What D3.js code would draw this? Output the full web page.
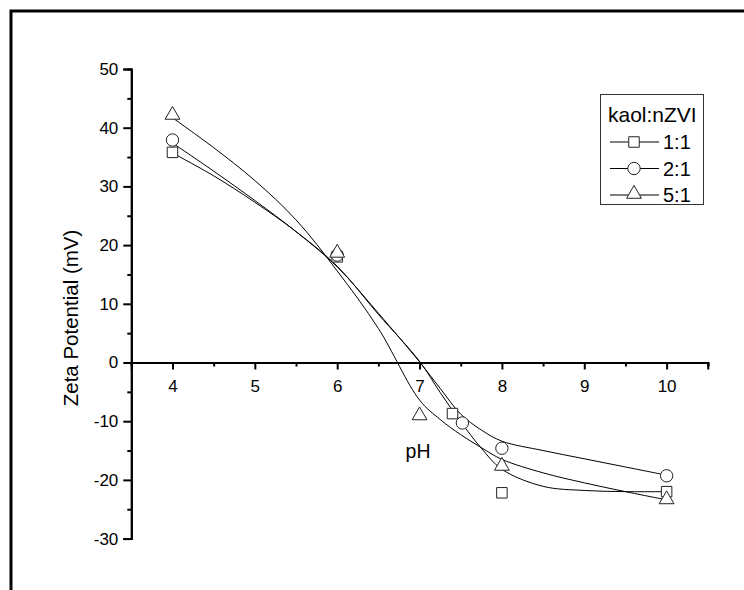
<!DOCTYPE html>
<html>
<head>
<meta charset="utf-8">
<script src="https://cdn.jsdelivr.net/npm/d3@7"></script>
<style>
  html, body { margin: 0; padding: 0; background: #fff; }
  svg { display: block; font-family: Arial, "Liberation Sans", sans-serif; }
</style>
</head>
<body>
<svg id="chart" width="744" height="590"></svg>
<script>
'use strict';

// measured points
var ph11 = [4, 6, 7.4, 8, 10];
var zeta11 = [35.8, 18, -8.7, -22.2, -22];
var ph21 = [4, 6, 7.52, 8, 10];
var zeta21 = [37.9, 18.3, -10.3, -14.6, -19.3];
var ph51 = [4, 6, 7, 8, 10];
var zeta51 = [42, 18.5, -9.2, -17.8, -23.5];

// fitted curves
var fitPH = [4, 4.5, 5, 5.5, 6, 6.5, 7, 7.25, 7.5, 7.75, 8, 8.5, 9, 9.5, 10];
var fit11 = [35.7, 31.8, 27.3, 22.3, 16.4, 8.2, 0.2, -5.1, -10.1, -14.6, -18.2, -21.1, -21.8, -22.0, -22.0];
var fit21 = [37.4, 32.6, 27.6, 22.3, 16.3, 8.4, 0.1, -4.4, -8.8, -11.5, -13.4, -15.0, -16.4, -17.8, -19.2];
var fit51 = [41.7, 36.6, 31.0, 24.3, 15.6, 5.8, -6.4, -9.7, -12.3, -14.5, -16.5, -18.8, -20.5, -22.0, -23.4];

var xTicks = [4, 5, 6, 7, 8, 9, 10];
var xMinor = [4.5, 5.5, 6.5, 7.5, 8.5, 9.5, 10.5];
var yTicks = [-30, -20, -10, 0, 10, 20, 30, 40, 50];
var yMinor = [-25, -15, -5, 5, 15, 25, 35, 45];
var seriesNames = ['1:1', '2:1', '5:1'];
var legendTitle = 'kaol:nZVI';

var svg = d3.select('#chart');

// outer frame (runs off the right and bottom edges)
svg.append('rect')
  .attr('x', 11).attr('y', 11)
  .attr('width', 800).attr('height', 700)
  .attr('fill', 'none').attr('stroke', '#000').attr('stroke-width', 3);

var x = d3.scaleLinear().domain([3.5, 10.5]).range([131.3, 707.8]);
var y = d3.scaleLinear().domain([-30, 50]).range([538.6, 69]);

var fmt = function (d) { return String(d); };

// x axis sits on zeta = 0
var gx = svg.append('g').attr('transform', 'translate(0,' + y(0) + ')');
gx.call(d3.axisBottom(x).tickValues(xTicks).tickSize(7).tickPadding(10).tickFormat(fmt));
gx.append('g').call(d3.axisBottom(x).tickValues(xMinor).tickSize(4).tickFormat(''));

var gy = svg.append('g').attr('transform', 'translate(' + x(3.5) + ',0)');
gy.call(d3.axisLeft(y).tickValues(yTicks).tickSize(8).tickPadding(5).tickFormat(fmt));
gy.append('g').call(d3.axisLeft(y).tickValues(yMinor).tickSize(4).tickFormat(''));

svg.selectAll('.domain').attr('stroke', '#000').attr('stroke-width', 2);
svg.selectAll('.tick line').attr('stroke', '#000').attr('stroke-width', 2);
svg.selectAll('.tick text').attr('font-size', 17).attr('fill', '#000')
  .attr('font-family', 'Arial, "Liberation Sans", sans-serif');

// axis titles
svg.append('text')
  .attr('transform', 'translate(78,318) rotate(-90)')
  .attr('text-anchor', 'middle')
  .attr('font-size', 20.5)
  .text('Zeta Potential (mV)');

svg.append('text')
  .attr('x', 418).attr('y', 458)
  .attr('text-anchor', 'middle')
  .attr('font-size', 19.5)
  .text('pH');

// fit lines
var line = d3.line()
  .x(function (d) { return x(d[0]); })
  .y(function (d) { return y(d[1]); })
  .curve(d3.curveCatmullRom.alpha(0.5));

[fit11, fit21, fit51].forEach(function (fit) {
  svg.append('path')
    .datum(fitPH.map(function (p, i) { return [p, fit[i]]; }))
    .attr('d', line)
    .attr('fill', 'none')
    .attr('stroke', '#000')
    .attr('stroke-width', 1);
});

var symbols = [d3.symbolSquare, d3.symbolCircle, d3.symbolTriangle];
var symSize = [110, 120, 95];

function drawMarker(g, i, cx, cy) {
  var dy = i === 2 ? -1 : 0;
  g.append('path')
    .attr('d', d3.symbol().type(symbols[i]).size(symSize[i]))
    .attr('transform', 'translate(' + cx + ',' + (cy + dy) + ')')
    .attr('fill', '#fff')
    .attr('stroke', '#222')
    .attr('stroke-width', 1);
}

var pts = [[ph11, zeta11], [ph21, zeta21], [ph51, zeta51]];
var gm = svg.append('g');
pts.forEach(function (s, i) {
  s[0].forEach(function (p, j) {
    drawMarker(gm, i, x(p), y(s[1][j]));
  });
});

// legend
var lg = svg.append('g');
lg.append('rect')
  .attr('x', 600.5).attr('y', 94.5)
  .attr('width', 103).attr('height', 110)
  .attr('fill', '#fff').attr('stroke', '#333').attr('stroke-width', 1);
lg.append('text')
  .attr('x', 608).attr('y', 122)
  .attr('font-size', 21)
  .text(legendTitle);
seriesNames.forEach(function (name, i) {
  var ly = 142 + i * 26.5;
  lg.append('line')
    .attr('x1', 610).attr('x2', 659)
    .attr('y1', ly).attr('y2', ly)
    .attr('stroke', '#000').attr('stroke-width', 1);
  drawMarker(lg, i, 634, ly);
  lg.append('text')
    .attr('x', 663).attr('y', ly + 7)
    .attr('font-size', 20)
    .text(name);
});
</script>
</body>
</html>
